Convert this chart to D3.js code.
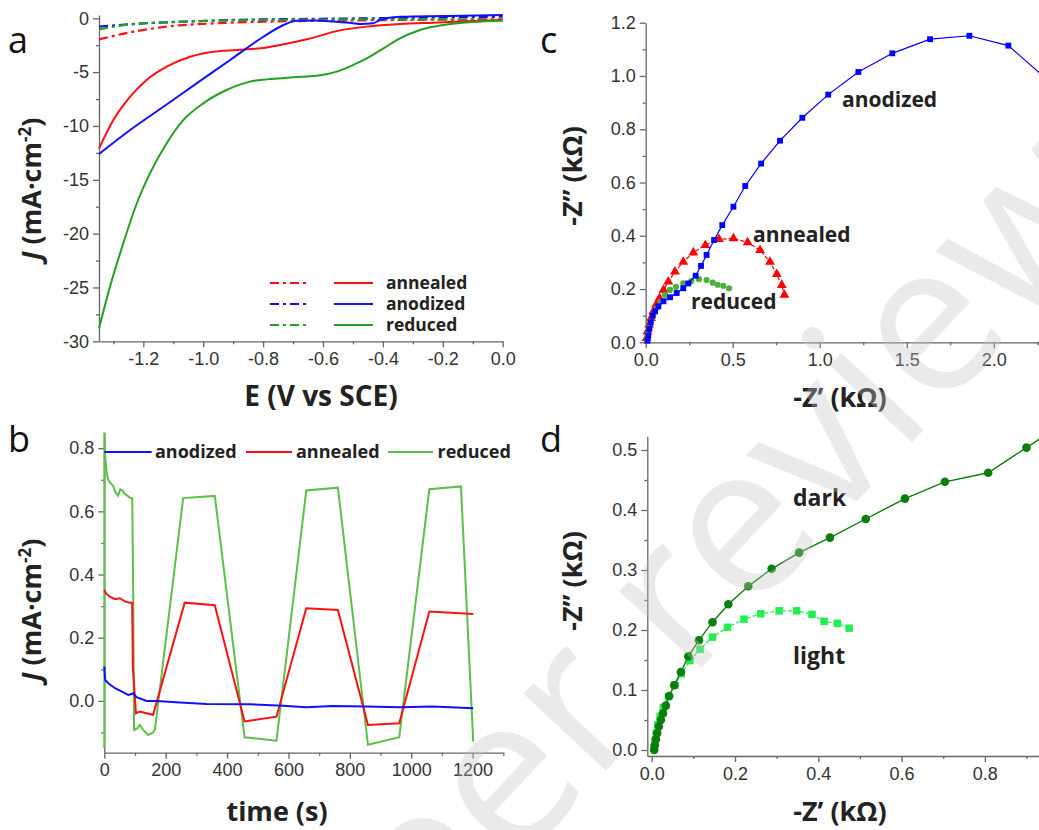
<!DOCTYPE html>
<html>
<head>
<meta charset="utf-8">
<script src="https://cdn.jsdelivr.net/npm/d3@7"></script>
<style>
body { margin: 0; background: #fff; }
svg { display: block; font-family: "Open Sans", sans-serif; }
.tick text { font-size: 18px; fill: #333; }
.domain, .tick line { stroke: #666; stroke-width: 1.3; }
.lbl { font-weight: bold; fill: #222; }
</style>
</head>
<body>
<div id="chart"></div>
<script>
const WIDTH = 1039, HEIGHT = 830

// ---- panel a : LSV, [E (V vs SCE), J (mA/cm2)] ----
const lsv_annealed_light = [[-1.348,-12.1],[-1.300,-9.45],[-1.244,-7.28],[-1.189,-5.73],[-1.122,-4.49],[-1.044,-3.57],[-0.966,-3.1],[-0.888,-2.94],[-0.81,-2.79],[-0.743,-2.48],[-0.654,-1.95],[-0.543,-1.12],[-0.454,-0.77],[-0.343,-0.53],[-0.232,-0.40],[-0.12,-0.28],[0,-0.15]]
const lsv_anodized_light = [[-1.348,-12.6],[-1.244,-10.37],[-1.133,-8.21],[-1.022,-6.04],[-0.91,-3.87],[-0.799,-1.71],[-0.732,-0.62],[-0.688,-0.22],[-0.62,-0.2],[-0.565,-0.3],[-0.5,-0.45],[-0.476,-0.53],[-0.432,-0.46],[-0.41,-0.15],[-0.343,0.15],[-0.2,0.22],[0,0.3]]
const lsv_reduced_light = [[-1.348,-28.8],[-1.311,-24.9],[-1.267,-20.9],[-1.222,-17.2],[-1.178,-14.4],[-1.122,-11.6],[-1.066,-9.44],[-1.0,-7.9],[-0.922,-6.66],[-0.844,-5.88],[-0.788,-5.67],[-0.699,-5.48],[-0.61,-5.29],[-0.554,-4.95],[-0.499,-4.33],[-0.454,-3.72],[-0.398,-2.79],[-0.343,-1.86],[-0.276,-1.08],[-0.198,-0.62],[-0.098,-0.34],[0,-0.22]]
const lsv_annealed_dark = [[-1.348,-1.95],[-1.233,-1.24],[-1.122,-0.77],[-0.955,-0.46],[-0.788,-0.31],[-0.565,-0.22],[-0.343,-0.15],[0,-0.09]]
const lsv_anodized_dark = [[-1.348,-0.77],[-1.233,-0.53],[-1.066,-0.31],[-0.899,-0.15],[-0.677,-0.06],[-0.454,0],[-0.232,0.09],[0,0.15]]
const lsv_reduced_dark = [[-1.348,-1.02],[-1.233,-0.53],[-1.066,-0.31],[-0.788,-0.15],[-0.343,-0.09],[0,-0.15]]
const a_xticks = [-1.2,-1.0,-0.8,-0.6,-0.4,-0.2,0.0]
const a_yticks = [-30,-25,-20,-15,-10,-5,0]
const a_names = ["annealed","anodized","reduced"]

// ---- panel b : chopped light, [time (s), J (mA/cm2)] ----
const chop_anodized = [[0,0.109],[3,0.066],[13,0.056],[35,0.04],[56,0.03],[78,0.019],[89,0.022],[94,0.024],[105,0.012],[138,0.0],[170,0.0],[246,-0.005],[333,-0.01],[474,-0.011],[583,-0.015],[658,-0.02],[745,-0.016],[853,-0.018],[962,-0.02],[1070,-0.018],[1202,-0.023]]
const chop_annealed = [[0,0.351],[5,0.341],[18,0.33],[35,0.322],[51,0.325],[67,0.315],[83,0.311],[91,0.311],[92,0.2],[93,0.109],[103,-0.039],[116,-0.034],[138,-0.039],[159,-0.044],[262,0.311],[360,0.303],[457,-0.065],[561,-0.05],[658,0.293],[761,0.288],[859,-0.076],[961,-0.071],[1059,0.283],[1202,0.275]]
const chop_reduced = [[0,-0.15],[0,0.85],[3,0.77],[8,0.72],[13,0.70],[20,0.69],[29,0.68],[37,0.66],[45,0.65],[52,0.67],[60,0.665],[67,0.655],[75,0.65],[83,0.643],[91,0.642],[94,0.36],[97,-0.092],[107,-0.087],[116,-0.076],[127,-0.092],[143,-0.108],[159,-0.10],[165,-0.09],[257,0.642],[360,0.649],[457,-0.115],[561,-0.126],[658,0.666],[761,0.675],[859,-0.139],[961,-0.115],[1059,0.67],[1162,0.679],[1202,-0.129]]
const b_xticks = [0,200,400,600,800,1000,1200]
const b_yticks = [0.0,0.2,0.4,0.6,0.8]

// ---- panel c : Nyquist, [-Z' (kOhm), -Z'' (kOhm)] ----
const eis_anodized = [[0.01,0.006],[0.015,0.025],[0.021,0.05],[0.029,0.075],[0.04,0.1],[0.054,0.117],[0.073,0.135],[0.102,0.154],[0.14,0.169],[0.178,0.185],[0.216,0.203],[0.245,0.221],[0.287,0.25],[0.318,0.287],[0.35,0.328],[0.393,0.384],[0.44,0.44],[0.504,0.509],[0.572,0.587],[0.663,0.671],[0.772,0.757],[0.90,0.843],[1.049,0.93],[1.222,1.015],[1.417,1.085],[1.634,1.138],[1.86,1.151],[2.084,1.114],[2.3,0.99]]
const eis_annealed = [[0.005,0.016],[0.01,0.041],[0.02,0.066],[0.031,0.091],[0.044,0.116],[0.06,0.141],[0.079,0.166],[0.102,0.197],[0.13,0.228],[0.168,0.265],[0.216,0.302],[0.274,0.337],[0.343,0.365],[0.421,0.387],[0.504,0.39],[0.586,0.375],[0.657,0.346],[0.714,0.302],[0.753,0.256],[0.782,0.215],[0.797,0.178]]
const eis_reduced = [[0.006,0.01],[0.01,0.028],[0.017,0.053],[0.029,0.078],[0.044,0.103],[0.063,0.128],[0.086,0.153],[0.111,0.178],[0.14,0.197],[0.174,0.208],[0.216,0.221],[0.262,0.23],[0.306,0.237],[0.35,0.234],[0.385,0.224],[0.414,0.216],[0.446,0.212],[0.479,0.203]]
const c_xticks = [0.0,0.5,1.0,1.5,2.0]
const c_yticks = [0.0,0.2,0.4,0.6,0.8,1.0,1.2]

// ---- panel d : reduced, dark vs light ----
const eis_dark = [[0.006,0.0],[0.0075,0.008],[0.01,0.018],[0.013,0.028],[0.017,0.039],[0.022,0.05],[0.027,0.061],[0.034,0.074],[0.042,0.09],[0.054,0.108],[0.07,0.13],[0.088,0.156],[0.1135,0.183],[0.146,0.213],[0.184,0.243],[0.232,0.273],[0.288,0.302],[0.354,0.329],[0.428,0.354],[0.514,0.385],[0.608,0.419],[0.704,0.447],[0.808,0.462],[0.9,0.504],[1.0,0.55]]
const eis_light = [[0.005,0.003],[0.008,0.014],[0.011,0.028],[0.015,0.042],[0.02,0.056],[0.028,0.071],[0.04,0.089],[0.056,0.108],[0.071,0.127],[0.092,0.149],[0.116,0.168],[0.146,0.188],[0.182,0.2045],[0.2215,0.218],[0.262,0.227],[0.306,0.232],[0.348,0.232],[0.385,0.226],[0.414,0.2145],[0.446,0.211],[0.474,0.203]]
const d_xticks = [0.0,0.2,0.4,0.6,0.8]
const d_yticks = [0.0,0.1,0.2,0.3,0.4,0.5]

const RED = "#ff1010", BLUE = "#1010ff", GREEN = "#22a022"

const svg = d3.select("#chart").append("svg").attr("width", WIDTH).attr("height", HEIGHT)

const fmt1 = d => d3.format(".1f")(d).replace("−", "-")
const fmt0 = d => d3.format("d")(d).replace("−", "-")

function minors(ticks, step) {
    // halfway ticks between the labelled ones
    const out = []
    for (let i = 0; i < ticks.length; i++) out.push(+(ticks[i] - step).toFixed(4))
    out.push(+(ticks[ticks.length - 1] + step).toFixed(4))
    return out
}

function drawAxes(x, y, xt, xm, yt, ym, fx, fy) {
    const [y0] = y.range()
    const [x0] = x.range()
    svg.append("g").attr("transform", "translate(0," + y0 + ")")
        .call(d3.axisBottom(x).tickValues(xm.filter(v => v >= x.domain()[0] && v <= x.domain()[1])).tickSize(3).tickFormat(""))
        .call(g => g.select(".domain").remove())
    svg.append("g").attr("transform", "translate(0," + y0 + ")")
        .call(d3.axisBottom(x).tickValues(xt).tickSize(6).tickSizeOuter(0).tickPadding(5).tickFormat(fx))
    svg.append("g").attr("transform", "translate(" + x0 + ",0)")
        .call(d3.axisLeft(y).tickValues(ym.filter(v => v >= y.domain()[0] && v <= y.domain()[1])).tickSize(3).tickFormat(""))
        .call(g => g.select(".domain").remove())
    svg.append("g").attr("transform", "translate(" + x0 + ",0)")
        .call(d3.axisLeft(y).tickValues(yt).tickSize(6).tickSizeOuter(0).tickPadding(4).tickFormat(fy))
}

function panelLetter(t, x, y) {
    svg.append("text").attr("x", x).attr("y", y).attr("font-size", 36).attr("fill", "#111").text(t)
}

function yTitle(cx, cy, build) {
    const t = svg.append("text").attr("class", "lbl").attr("font-size", 27).attr("text-anchor", "middle")
        .attr("transform", "translate(" + cx + "," + cy + ") rotate(-90)")
    build(t)
}

// ================= panel a =================
{
    const x = d3.scaleLinear().domain([-1.348, 0]).range([99, 502.7])
    const y = d3.scaleLinear().domain([-30, 0.3]).range([341.3, 15.1])
    drawAxes(x, y, a_xticks, minors(a_xticks, 0.1), a_yticks, minors(a_yticks, 2.5), fmt1, fmt0)
    const line = d3.line().x(d => x(d[0])).y(d => y(d[1])).curve(d3.curveMonotoneX)
    const dark = [lsv_annealed_dark, lsv_anodized_dark, lsv_reduced_dark]
    const light = [lsv_annealed_light, lsv_anodized_light, lsv_reduced_light]
    const cols = [RED, BLUE, GREEN]
    dark.forEach((s, i) => svg.append("path").datum(s).attr("d", line).attr("fill", "none")
        .attr("stroke", cols[i]).attr("stroke-width", 2.2).attr("stroke-dasharray", "9,4,3,4"))
    light.forEach((s, i) => svg.append("path").datum(s).attr("d", line).attr("fill", "none")
        .attr("stroke", cols[i]).attr("stroke-width", 2))

    a_names.forEach((n, i) => {
        const yy = 283 + i * 21
        svg.append("line").attr("x1", 270).attr("x2", 310).attr("y1", yy).attr("y2", yy)
            .attr("stroke", cols[i]).attr("stroke-width", 2).attr("stroke-dasharray", "9,4,3,4")
        svg.append("line").attr("x1", 334).attr("x2", 373).attr("y1", yy).attr("y2", yy)
            .attr("stroke", cols[i]).attr("stroke-width", 2)
        svg.append("text").attr("class", "lbl").attr("x", 386).attr("y", yy + 6).attr("font-size", 17.5).text(n)
    })
    svg.append("text").attr("class", "lbl").attr("x", 321).attr("y", 406).attr("font-size", 28)
        .attr("text-anchor", "middle").text("E (V vs SCE)")
    yTitle(41, 189, t => {
        t.append("tspan").attr("font-style", "italic").text("J")
        t.append("tspan").text(" (mA·cm")
        t.append("tspan").attr("font-size", 17).attr("dy", -10).text("-2")
        t.append("tspan").attr("dy", 10).text(")")
    })
    panelLetter("a", 8, 53)
}

// ================= panel b =================
{
    const x = d3.scaleLinear().domain([0, 1300]).range([104.3, 503.3])
    const y = d3.scaleLinear().domain([-0.164, 0.849]).range([752.7, 432.7])
    drawAxes(x, y, b_xticks, minors(b_xticks, 100), b_yticks, minors(b_yticks, 0.1), fmt0, fmt1)
    const line = d3.line().x(d => x(d[0])).y(d => y(d[1]))
    svg.append("path").datum(chop_reduced).attr("d", line).attr("fill", "none").attr("stroke", "#5cbf4a").attr("stroke-width", 2)
    svg.append("path").datum(chop_annealed).attr("d", line).attr("fill", "none").attr("stroke", RED).attr("stroke-width", 2)
    svg.append("path").datum(chop_anodized).attr("d", line).attr("fill", "none").attr("stroke", BLUE).attr("stroke-width", 2)

    const leg = [["anodized", BLUE, 104.3, 151.7, 155], ["annealed", RED, 246, 292, 296], ["reduced", "#5cbf4a", 388, 433, 437.5]]
    leg.forEach(l => {
        svg.append("line").attr("x1", l[2]).attr("x2", l[3]).attr("y1", 452).attr("y2", 452).attr("stroke", l[1]).attr("stroke-width", 2)
        svg.append("text").attr("class", "lbl").attr("x", l[4]).attr("y", 458).attr("font-size", 18).text(l[0])
    })
    svg.append("text").attr("class", "lbl").attr("x", 277).attr("y", 821).attr("font-size", 27)
        .attr("text-anchor", "middle").text("time (s)")
    yTitle(41, 610, t => {
        t.append("tspan").attr("font-style", "italic").text("J")
        t.append("tspan").text(" (mA·cm")
        t.append("tspan").attr("font-size", 17).attr("dy", -10).text("-2")
        t.append("tspan").attr("dy", 10).text(")")
    })
    panelLetter("b", 8, 452)
}

const sym = (type, size) => d3.symbol().type(type).size(size)

// ================= panel c =================
{
    const x = d3.scaleLinear().domain([0, 2.26]).range([645.7, 1039])
    const y = d3.scaleLinear().domain([0, 1.2]).range([342.3, 22.7])
    drawAxes(x, y, c_xticks, minors(c_xticks, 0.25), c_yticks, minors(c_yticks, 0.1), fmt1, fmt1)
    const line = d3.line().x(d => x(d[0])).y(d => y(d[1]))
    const series = [
        [eis_annealed, "#ff0000", d3.symbolTriangle, 42, "4,2"],
        [eis_reduced, "#4cb03a", d3.symbolCircle, 30, null],
        [eis_anodized, "#0000ff", d3.symbolSquare, 34, null]
    ]
    series.forEach(s => {
        if (s[0] !== eis_reduced)
            svg.append("path").datum(s[0]).attr("d", line).attr("fill", "none").attr("stroke", s[1])
                .attr("stroke-width", 1.2).attr("stroke-dasharray", s[4])
        svg.append("g").selectAll("path").data(s[0]).enter().append("path")
            .attr("d", sym(s[2], s[3])).attr("fill", s[1])
            .attr("transform", d => "translate(" + x(d[0]) + "," + y(d[1]) + ")")
    })
    svg.append("text").attr("class", "lbl").attr("x", 842).attr("y", 107).attr("font-size", 21).text("anodized")
    svg.append("text").attr("class", "lbl").attr("x", 753).attr("y", 242).attr("font-size", 21).text("annealed")
    svg.append("text").attr("class", "lbl").attr("x", 691).attr("y", 309).attr("font-size", 21).text("reduced")
    svg.append("text").attr("class", "lbl").attr("x", 840).attr("y", 407).attr("font-size", 27)
        .attr("text-anchor", "middle").text("-Z’ (kΩ)")
    yTitle(582, 176, t => t.text("-Z” (kΩ)"))
    panelLetter("c", 540, 53)
}

// ================= panel d =================
{
    const x = d3.scaleLinear().domain([-0.0106, 0.93]).range([647.3, 1039])
    const y = d3.scaleLinear().domain([-0.01, 0.523]).range([756, 436.2])
    drawAxes(x, y, d_xticks, minors(d_xticks, 0.1), d_yticks, minors(d_yticks, 0.05), fmt1, fmt1)
    const line = d3.line().x(d => x(d[0])).y(d => y(d[1]))
    svg.append("path").datum(eis_light).attr("d", line).attr("fill", "none").attr("stroke", "#22ee50")
        .attr("stroke-width", 1.2).attr("stroke-dasharray", "4,2")
    svg.append("g").selectAll("path").data(eis_light).enter().append("path")
        .attr("d", sym(d3.symbolSquare, 56)).attr("fill", "#22ee50")
        .attr("transform", d => "translate(" + x(d[0]) + "," + y(d[1]) + ")")
    svg.append("path").datum(eis_dark).attr("d", line).attr("fill", "none").attr("stroke", "#0a7d0a").attr("stroke-width", 1.4)
    svg.append("g").selectAll("circle").data(eis_dark).enter().append("circle")
        .attr("cx", d => x(d[0])).attr("cy", d => y(d[1])).attr("r", 4.3).attr("fill", "#0a7d0a")
    svg.append("text").attr("class", "lbl").attr("x", 793).attr("y", 506).attr("font-size", 23).text("dark")
    svg.append("text").attr("class", "lbl").attr("x", 793).attr("y", 664).attr("font-size", 23).text("light")
    svg.append("text").attr("class", "lbl").attr("x", 840).attr("y", 821).attr("font-size", 27)
        .attr("text-anchor", "middle").text("-Z’ (kΩ)")
    yTitle(582, 581, t => t.text("-Z” (kΩ)"))
    panelLetter("d", 540, 452)
}

// watermark on top
svg.append("text").attr("transform", "translate(345,1050) rotate(-47)")
    .attr("font-size", 210).attr("fill", "#c4c4c4").attr("fill-opacity", 0.35).text("peer review")
</script>
</body>
</html>
